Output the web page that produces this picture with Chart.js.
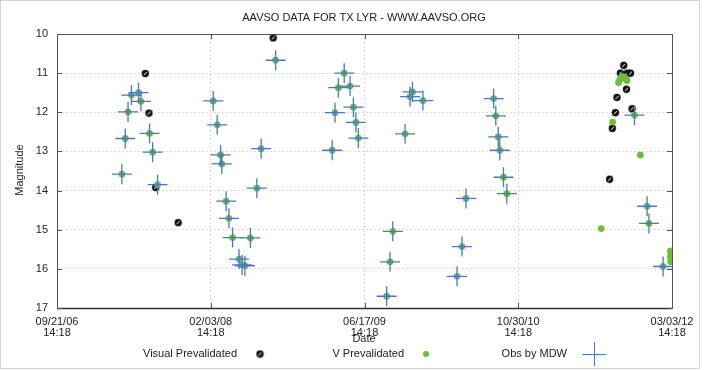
<!DOCTYPE html>
<html>
<head>
<meta charset="utf-8">
<script src="https://cdn.jsdelivr.net/npm/chart.js@4.4.1/dist/chart.umd.min.js"></script>
<style>
    html, body { margin: 0; padding: 0; background: #fff; }
    #wrap { width: 704px; height: 370px; }
</style>
</head>
<body>
<div id="wrap"><canvas id="grafico" width="704" height="370"></canvas></div>
<script>
// JD das datas; eixo x vai de JD0 a JD0 + 2000 dias
const JD0 = 2454000;
const xTickLabels = [
    ['09/21/06', '14:18'],
    ['02/03/08', '14:18'],
    ['06/17/09', '14:18'],
    ['10/30/10', '14:18'],
    ['03/03/12', '14:18']
];
const yTicks = [10, 11, 12, 13, 14, 15, 16, 17];

// Visual Prevalidated (circulos pretos)
const visualJD = [2454287, 2454299, 2454321, 2454394, 2454703,
    2455843, 2455832, 2455854, 2455865, 2455852, 2455821, 2455816, 2455870, 2455806, 2455797];
const visualMag = [11.01, 12.02, 13.92, 14.82, 10.10,
    10.80, 11.00, 11.00, 11.00, 11.41, 11.62, 12.01, 11.91, 12.41, 13.71];

// Obs by MDW (cruzes azuis)
const mdwJD = [2454242, 2454265, 2454273, 2454231, 2454301, 2454222, 2454311, 2454211, 2454327,
    2454711, 2454508, 2454521, 2454664, 2454532, 2454536, 2454650, 2454550, 2454559, 2454571,
    2454629, 2454592, 2454602, 2454611,
    2454934, 2454915, 2454953, 2454964, 2454904, 2454972, 2454980, 2454895,
    2455156, 2455148, 2455190, 2455132, 2455092, 2455083, 2455072,
    2455301, 2455317, 2455330, 2455420, 2455427, 2455435, 2455440, 2455452, 2455463,
    2455878, 2455919, 2455925, 2455971];
const mdwMag = [11.56, 11.50, 11.72, 11.99, 12.54, 12.67, 13.02, 13.58, 13.85,
    10.67, 11.71, 12.32, 12.93, 13.09, 13.32, 13.94, 14.27, 14.71, 15.20,
    15.21, 15.75, 15.90, 15.92,
    11.00, 11.37, 11.33, 11.87, 12.01, 12.26, 12.66, 12.97,
    11.48, 11.60, 11.70, 12.55, 15.04, 15.82, 16.70,
    16.19, 15.43, 14.20, 11.65, 12.09, 12.63, 12.97, 13.66, 14.08,
    12.07, 14.40, 14.84, 15.94];

// V Prevalidated: os pontos do MDW mais estes
const vExtraJD = [2455826, 2455830, 2455835, 2455840, 2455845, 2455850, 2455854,
    2455807, 2455897, 2455770, 2455995, 2455996, 2455995, 2455997, 2455996];
const vExtraMag = [11.24, 11.17, 11.12, 11.09, 11.10, 11.15, 11.19,
    12.25, 13.09, 14.97, 15.54, 15.62, 15.70, 15.76, 15.82];

const FONTE = "'Liberation Sans', Arial, sans-serif";
const AZUL = '#4b74cc';
const VERDE = '#6cbf3c';

function pontos(xs, ys) {
    return xs.map((x, i) => ({ x: x, y: ys[i] }));
}

function marcaVisual() {
    const c = document.createElement('canvas');
    c.width = 9;
    c.height = 9;
    const g = c.getContext('2d');
    g.fillStyle = '#111';
    g.beginPath();
    g.arc(4.5, 4.5, 3.7, 0, Math.PI * 2);
    g.fill();
    g.strokeStyle = '#fff';
    g.lineWidth = 1;
    g.beginPath();
    g.moveTo(3, 6);
    g.lineTo(6, 3);
    g.stroke();
    return c;
}
const imgVisual = marcaVisual();

const extras = {
    id: 'extras',
    beforeDraw(chart) {
        const ctx = chart.ctx;
        ctx.save();
        ctx.fillStyle = '#fff';
        ctx.fillRect(0, 0, chart.width, chart.height);
        ctx.restore();
    },
    afterDraw(chart) {
        const ctx = chart.ctx;
        const a = chart.chartArea;
        const xs = chart.scales.x;
        const ys = chart.scales.y;
        ctx.save();

        // moldura externa
        ctx.strokeStyle = '#d4d4d4';
        ctx.lineWidth = 1;
        ctx.strokeRect(0.5, 0.5, 699, 368);

        // moldura do grafico
        ctx.strokeStyle = '#555';
        ctx.strokeRect(Math.round(a.left) + 0.5, Math.round(a.top) + 0.5,
            Math.round(a.right - a.left), Math.round(a.bottom - a.top));
        ctx.strokeStyle = '#333';
        ctx.lineWidth = 1.5;
        ctx.beginPath();
        ctx.moveTo(a.left, a.bottom + 0.5);
        ctx.lineTo(a.right, a.bottom + 0.5);
        ctx.stroke();

        // ticks para dentro
        ctx.lineWidth = 1;
        ctx.strokeStyle = '#555';
        ctx.beginPath();
        xs.ticks.forEach(t => {
            const px = Math.round(xs.getPixelForValue(t.value)) + 0.5;
            ctx.moveTo(px, a.bottom); ctx.lineTo(px, a.bottom - 5);
            ctx.moveTo(px, a.top); ctx.lineTo(px, a.top + 5);
        });
        ys.ticks.forEach(t => {
            const py = Math.round(ys.getPixelForValue(t.value)) + 0.5;
            ctx.moveTo(a.left, py); ctx.lineTo(a.left + 5, py);
            ctx.moveTo(a.right, py); ctx.lineTo(a.right - 5, py);
        });
        ctx.stroke();

        ctx.fillStyle = '#222';
        ctx.textBaseline = 'middle';

        // titulo
        ctx.font = '11px ' + FONTE;
        ctx.textAlign = 'center';
        ctx.fillText('AAVSO DATA FOR TX LYR - WWW.AAVSO.ORG', 364, 18);

        // titulos dos eixos
        ctx.fillText('Date', 364, 339);
        ctx.save();
        ctx.translate(20, 170);
        ctx.rotate(-Math.PI / 2);
        ctx.fillText('Magnitude', 0, 0);
        ctx.restore();

        // legenda (texto antes da marca)
        const ly = 354;
        ctx.textAlign = 'right';
        ctx.fillText('Visual Prevalidated', 237, ly);
        ctx.drawImage(imgVisual, 260 - 4.5, ly - 4.5);
        ctx.fillText('V Prevalidated', 404, ly);
        ctx.fillStyle = VERDE;
        ctx.beginPath();
        ctx.arc(426, ly, 3, 0, Math.PI * 2);
        ctx.fill();
        ctx.fillStyle = '#222';
        ctx.fillText('Obs by MDW', 567, ly);
        ctx.strokeStyle = AZUL;
        ctx.lineWidth = 1;
        ctx.beginPath();
        ctx.moveTo(582, ly + 0.5); ctx.lineTo(606, ly + 0.5);
        ctx.moveTo(594.5, ly - 12); ctx.lineTo(594.5, ly + 12);
        ctx.stroke();

        ctx.restore();
    }
};

const ctx = document.getElementById('grafico').getContext('2d');
new Chart(ctx, {
    type: 'scatter',
    data: {
        datasets: [
            {
                label: 'Obs by MDW',
                data: pontos(mdwJD, mdwMag),
                pointStyle: 'cross',
                pointRadius: 10,
                pointHoverRadius: 10,
                borderColor: AZUL,
                backgroundColor: AZUL,
                pointBorderWidth: 1.3,
                order: 0
            },
            {
                label: 'V Prevalidated',
                data: pontos(mdwJD.concat(vExtraJD), mdwMag.concat(vExtraMag)),
                pointStyle: 'circle',
                pointRadius: 3.4,
                pointHoverRadius: 3.4,
                borderWidth: 0,
                backgroundColor: VERDE,
                borderColor: VERDE,
                order: 1
            },
            {
                label: 'Visual Prevalidated',
                data: pontos(visualJD, visualMag),
                pointStyle: imgVisual,
                pointRadius: 4,
                order: 2
            }
        ]
    },
    options: {
        responsive: false,
        animation: false,
        devicePixelRatio: 1,
        layout: {
            padding: { top: 34, right: 32, bottom: 0, left: 0 }
        },
        plugins: {
            legend: { display: false },
            title: { display: false },
            tooltip: { enabled: false }
        },
        scales: {
            x: {
                type: 'linear',
                min: JD0,
                max: JD0 + 2000,
                afterFit: s => { s.height = 62; },
                afterBuildTicks: s => {
                    s.ticks = xTickLabels.map((l, i) => ({ value: JD0 + i * 500 }));
                },
                ticks: {
                    autoSkip: false,
                    maxRotation: 0,
                    padding: 8,
                    color: '#222',
                    font: { family: FONTE, size: 11, lineHeight: 1.0 },
                    callback: v => xTickLabels[Math.round((v - JD0) / 500)]
                },
                grid: {
                    color: '#dcdcdc',
                    drawTicks: false,
                    tickBorderDash: [],
                },
                border: { color: '#444', width: 1, dash: [2, 2] }
            },
            y: {
                reverse: true,
                min: 10,
                max: 17,
                afterFit: s => { s.width = 57; },
                afterBuildTicks: s => {
                    s.ticks = yTicks.map(v => ({ value: v }));
                },
                ticks: {
                    padding: 9,
                    color: '#222',
                    font: { family: FONTE, size: 11 }
                },
                grid: {
                    color: '#dcdcdc',
                    drawTicks: false
                },
                border: { color: '#444', width: 1, dash: [2, 2] }
            }
        }
    },
    plugins: [extras]
});
</script>
</body>
</html>
